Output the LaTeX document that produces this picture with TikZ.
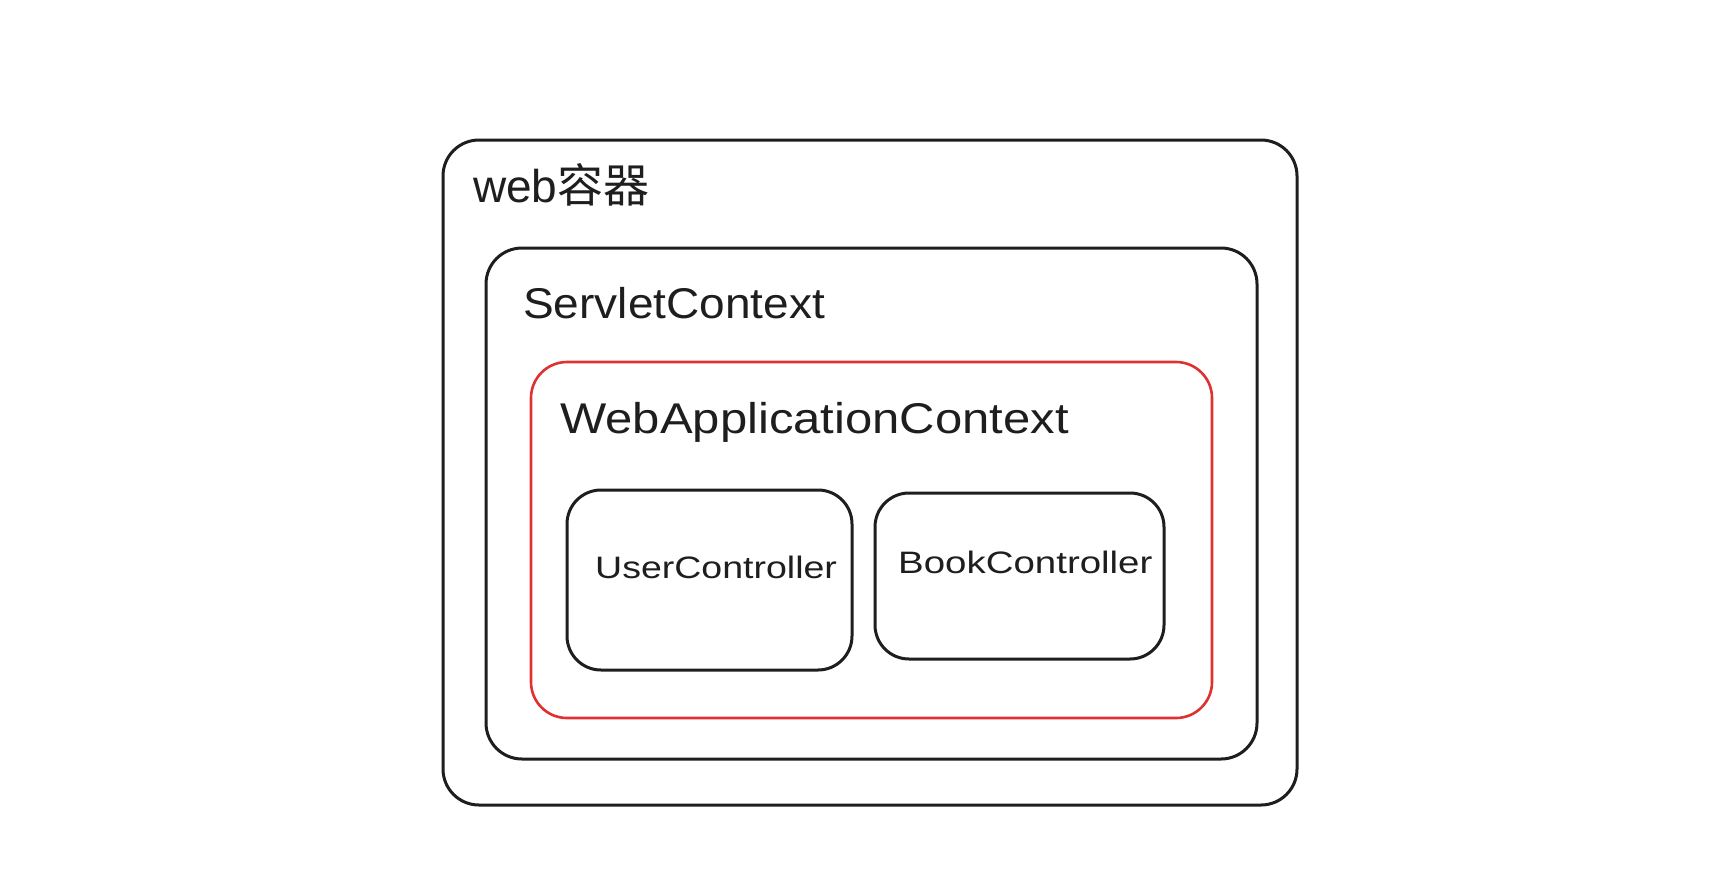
\documentclass[tikz,border=0pt]{standalone}
\usepackage{fontspec}
\setmainfont{Liberation Sans}
\newfontfamily\cjk{Noto Sans CJK SC}
\definecolor{ink}{HTML}{1E1E1E}
\definecolor{redline}{HTML}{E03131}
\begin{document}
\begin{tikzpicture}[x=1pt,y=-1pt,
  frame/.style={draw=ink, line width=3pt, rounded corners=36pt, inner sep=0pt, fill=none},
  redframe/.style={frame, draw=redline, line width=2.6pt},
  label/.style={anchor=base west, inner sep=0pt, text=ink},
  big/.style={label, font=\fontsize{43}{48}\selectfont},
  small/.style={label, font=\fontsize{31}{36}\selectfont}]
\useasboundingbox (0,0) rectangle (1732,873);
\fill[white] (0,0) rectangle (1732,873);
\node[frame, minimum width=854pt, minimum height=665pt] (outer) at (870,472.5) {};
\node[frame, minimum width=771pt, minimum height=511pt] (servlet) at (871.5,503.5) {};
\node[redframe, minimum width=681pt, minimum height=356pt] (wac) at (871.5,540) {};
\node[frame, rounded corners=34pt, minimum width=285pt, minimum height=180pt] (user) at (709.5,580) {};
\node[frame, rounded corners=34pt, minimum width=289pt, minimum height=166pt] (book) at (1019.5,576) {};
\node[label, font=\fontsize{46}{52}\selectfont] (webt) at (473,202) {web{\cjk 容器}};
\node[big] (servt) at (523,318) {\scalebox{1.07}[1]{ServletContext}};
\node[big] (wact) at (560,433) {\scalebox{1.14}[1]{WebApplicationContext}};
\node[small] (usert) at (595,578) {\scalebox{1.21}[1]{UserController}};
\node[small] (bookt) at (898,573) {\scalebox{1.24}[1]{BookController}};
\end{tikzpicture}
\end{document}
